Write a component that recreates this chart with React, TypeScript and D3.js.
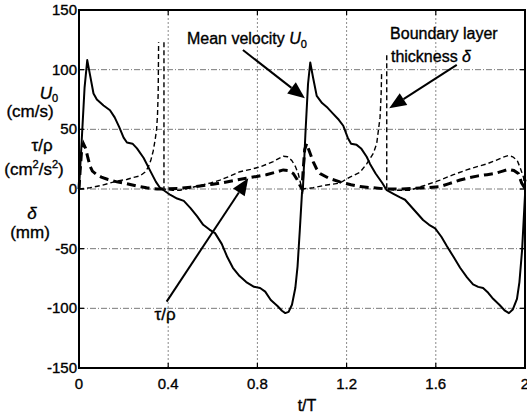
import React from "react";
import * as d3 from "d3";

// mean velocity U0 (cm/s)
const u0T = [0, 0.012, 0.025, 0.037, 0.05, 0.065, 0.08, 0.11, 0.139, 0.16, 0.18, 0.2, 0.215, 0.24, 0.26, 0.29, 0.32, 0.345, 0.363, 0.38, 0.41, 0.44, 0.47, 0.5, 0.53, 0.557, 0.585, 0.61, 0.64, 0.665, 0.69, 0.72, 0.75, 0.785, 0.812, 0.835, 0.86, 0.89, 0.91, 0.925, 0.94, 0.955, 0.97, 0.98, 0.99, 1.0,
  1.004, 1.015, 1.027, 1.037, 1.05, 1.066, 1.09, 1.115, 1.14, 1.165, 1.185, 1.205, 1.22, 1.245, 1.265, 1.29, 1.305, 1.33, 1.36, 1.38, 1.41, 1.44, 1.462, 1.5, 1.543, 1.57, 1.597, 1.625, 1.65, 1.68, 1.709, 1.74, 1.767, 1.79, 1.812, 1.835, 1.857, 1.885, 1.91, 1.928, 1.945, 1.964, 1.975, 1.987, 2.0];
const u0V = [0, 40, 85, 108, 95, 80, 75, 70, 66, 60, 52, 43, 39, 38, 34, 26, 15, 6, 1, -1, -5, -8, -10, -16, -23, -30, -34, -37, -46, -57, -66, -73, -78, -82, -83, -86, -93, -98, -102, -104, -103, -97, -83, -65, -35, -3,
  0, 45, 88, 106, 93, 78, 72, 68, 63, 58, 53, 43, 38, 37, 34, 27, 21, 13, 5, -1, -4, -7, -9, -17, -26, -30, -33, -40, -48, -57, -66, -74, -80, -82, -83, -87, -92, -97, -102, -104, -101, -92, -78, -51, -5];

// boundary layer thickness delta (mm); null = gap in the trace
const deltaT = [0, 0.05, 0.1, 0.139, 0.18, 0.214, 0.25, 0.274, 0.295, 0.31, 0.322, 0.333, 0.342, 0.348, 0.352, 0.355, 0.356, 0.357, 0.37, 0.381, 0.381, 0.42, 0.453, 0.5, 0.543, 0.59, 0.632, 0.68, 0.722, 0.77, 0.812, 0.845, 0.871, 0.895, 0.916, 0.935, 0.954, 0.97, 0.983, 0.992, 1.0,
  1.05, 1.1, 1.17, 1.215, 1.26, 1.29, 1.32, 1.335, 1.35, 1.355, 1.357, 1.37, 1.38, 1.38, 1.42, 1.484, 1.55, 1.619, 1.679, 1.738, 1.79, 1.828, 1.87, 1.9, 1.925, 1.945, 1.965, 1.98, 1.993, 2.0];
const deltaV: (number | null)[] = [0, 1, 3, 5, 7, 8, 10, 11, 14, 18, 24, 32, 42, 50, 62, 80, 100, 123, null, 123, 0, -1, -1, 1, 3, 5, 7.5, 11, 14.5, 16.5, 18.5, 21, 23, 25.5, 27.5, 27, 24, 19, 13, 6, 0,
  1, 3, 5, 10, 14, 21, 30, 38, 60, 80, 97, null, 112, 0, -1, -1, 3, 7.5, 12, 16, 19, 21, 24, 26.5, 28, 27, 24, 17, 10, 3];

// wall shear stress tau/rho (cm^2/s^2)
const tauT = [0, 0.005, 0.012, 0.02, 0.03, 0.04, 0.05, 0.06, 0.08, 0.1, 0.13, 0.17, 0.214, 0.26, 0.303, 0.35, 0.38, 0.45, 0.5, 0.543, 0.6, 0.65, 0.692, 0.75, 0.797, 0.84, 0.88, 0.916, 0.94, 0.961, 0.978, 0.991, 1.0,
  1.005, 1.012, 1.021, 1.03, 1.04, 1.05, 1.065, 1.081, 1.12, 1.17, 1.22, 1.26, 1.32, 1.38, 1.45, 1.55, 1.619, 1.66, 1.709, 1.75, 1.79, 1.83, 1.865, 1.9, 1.925, 1.95, 1.97, 1.985, 1.995, 2.0];
const tauV = [0, 15, 33, 38, 34, 26, 19, 15, 12, 10, 8, 6, 4.5, 2.5, 1, 0, 0, 0.5, 1.5, 2.5, 4, 5.5, 7, 9, 10.5, 12, 14, 16, 15.5, 13, 8, 3, 0,
  15, 33, 38, 33, 28, 23, 17, 13, 9, 6, 3.5, 2, 1, 0, 0, 1, 2, 4.5, 7.5, 9.5, 11, 12, 13, 15, 16.5, 15.5, 13, 5, 2, 8];

const xTicks = [0, 0.4, 0.8, 1.2, 1.6, 2];
const yTicks = [-150, -100, -50, 0, 50, 100, 150];

// annotation arrows in data units: [t0, v0, t1, v1]
const arrowU0 = [0.735, 116.5, 1.013, 76];
const arrowDelta = [1.694, 104, 1.391, 67.6];
const arrowTau = [0.393, -94.4, 0.759, 9];

const FONT = "'Liberation Sans', Arial, Helvetica, sans-serif";

export default function App() {
  const width = 527;
  const height = 414;
  const x = d3.scaleLinear().domain([0, 2]).range([79, 525]);
  const y = d3.scaleLinear().domain([-150, 150]).range([368, 10]);

  const makeLine = (ts: number[], vs: (number | null)[]) =>
    d3
      .line<number>()
      .defined((i) => vs[i] !== null)
      .x((i) => x(ts[i]))
      .y((i) => y(vs[i] as number))(d3.range(ts.length)) || "";

  const arrow = (a: number[]) => {
    const x0 = x(a[0]), y0 = y(a[1]), x1 = x(a[2]), y1 = y(a[3]);
    const ang = Math.atan2(y1 - y0, x1 - x0);
    const len = 17, hw = 7;
    const bx = x1 - len * Math.cos(ang), by = y1 - len * Math.sin(ang);
    const px = -Math.sin(ang) * hw, py = Math.cos(ang) * hw;
    return (
      <g>
        <line x1={x0} y1={y0} x2={bx} y2={by} stroke="#000" strokeWidth={2} />
        <polygon points={`${x1},${y1} ${bx + px},${by + py} ${bx - px},${by - py}`} fill="#000" />
      </g>
    );
  };

  const [x0, x1] = x.range();
  const [yb, yt] = y.range();

  return (
    <svg width={width} height={height} style={{ position: "absolute", left: 0, top: 0, background: "#fff" }} fontFamily={FONT}>
      <rect width={width} height={height} fill="#fff" />
      {/* grid */}
      {xTicks.slice(1, -1).map((t) => (
        <line key={"gx" + t} x1={x(t)} x2={x(t)} y1={yt} y2={yb} stroke="#8a8a8a" strokeWidth={1} strokeDasharray="2,2" />
      ))}
      {yTicks.slice(1, -1).map((v) => (
        <line key={"gy" + v} x1={x0} x2={x1} y1={y(v)} y2={y(v)} stroke="#7a7a7a" strokeWidth={1} strokeDasharray="6,2,1,2" />
      ))}

      {/* data */}
      <path d={makeLine(deltaT, deltaV)} fill="none" stroke="#000" strokeWidth={1.4} strokeDasharray="5,3" />
      <path d={makeLine(tauT, tauV)} fill="none" stroke="#000" strokeWidth={3} strokeDasharray="9,5" />
      <path d={makeLine(u0T, u0V)} fill="none" stroke="#000" strokeWidth={2} strokeLinejoin="round" />

      {/* frame */}
      <rect x={x0} y={yt} width={x1 - x0} height={yb - yt} fill="none" stroke="#000" strokeWidth={2} />
      {xTicks.slice(1, -1).map((t) => (
        <g key={"tx" + t}>
          <line x1={x(t)} x2={x(t)} y1={yb} y2={yb - 5} stroke="#000" strokeWidth={1.2} />
          <line x1={x(t)} x2={x(t)} y1={yt} y2={yt + 5} stroke="#000" strokeWidth={1.2} />
        </g>
      ))}
      {yTicks.slice(1, -1).map((v) => (
        <g key={"ty" + v}>
          <line x1={x0} x2={x0 + 5} y1={y(v)} y2={y(v)} stroke="#000" strokeWidth={1.2} />
          <line x1={x1} x2={x1 - 5} y1={y(v)} y2={y(v)} stroke="#000" strokeWidth={1.2} />
        </g>
      ))}

      <g stroke="#000" strokeWidth={0.35}>
        {/* tick labels */}
        {xTicks.map((t) => (
          <text key={"lx" + t} x={x(t)} y={389} textAnchor="middle" fontSize={15}>
            {String(t)}
          </text>
        ))}
        {yTicks.map((v) => (
          <text key={"ly" + v} x={77} y={y(v) + 5} textAnchor="end" fontSize={15}>
            {String(v)}
          </text>
        ))}

        {/* axis titles */}
        <text x={307} y={411} textAnchor="middle" fontSize={16}>t/T</text>
        <text x={49} y={99} textAnchor="middle" fontSize={17}>
          <tspan fontStyle="italic">U</tspan>
          <tspan fontSize={11} dy={3}>0</tspan>
        </text>
        <text x={30} y={117} textAnchor="middle" fontSize={17}>(cm/s)</text>
        <text x={42} y={151} textAnchor="middle" fontSize={17}>τ/ρ</text>
        <text x={34} y={175} textAnchor="middle" fontSize={17}>
          (cm<tspan fontSize={11} dy={-7}>2</tspan>
          <tspan dy={7}>/s</tspan>
          <tspan fontSize={11} dy={-7}>2</tspan>
          <tspan dy={7}>)</tspan>
        </text>
        <text x={32} y={219} textAnchor="middle" fontSize={17} fontStyle="italic">δ</text>
        <text x={30} y={238} textAnchor="middle" fontSize={17}>(mm)</text>

        {/* annotations */}
        <text x={x(0.484)} y={y(121.5)} fontSize={16}>
          Mean velocity <tspan fontStyle="italic">U</tspan>
          <tspan fontSize={11} dy={4}>0</tspan>
        </text>
        <text x={x(1.395)} y={y(125.7)} fontSize={16}>Boundary layer</text>
        <text x={x(1.399)} y={y(106.4)} fontSize={16}>
          thickness <tspan fontStyle="italic">δ</tspan>
        </text>
        <text x={x(0.386)} y={y(-109.8)} textAnchor="middle" fontSize={17}>τ/ρ</text>
      </g>
      {arrow(arrowU0)}
      {arrow(arrowDelta)}
      {arrow(arrowTau)}
    </svg>
  );
}
